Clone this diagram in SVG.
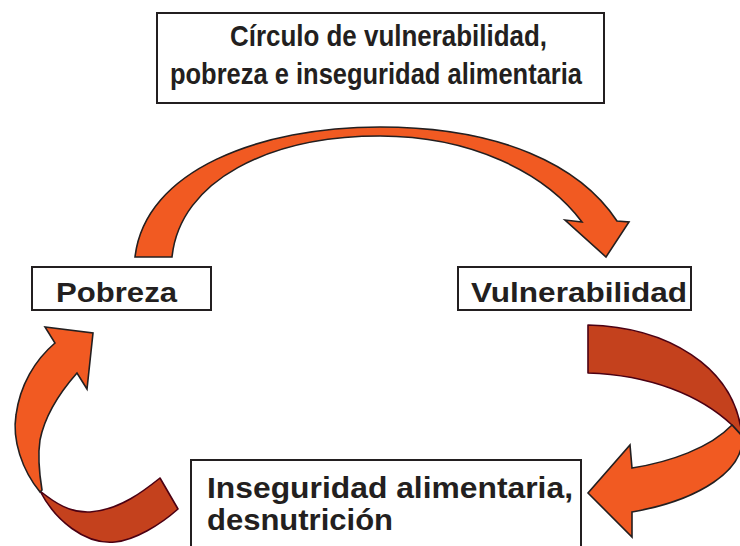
<svg xmlns="http://www.w3.org/2000/svg" width="740" height="546" viewBox="0 0 740 546">
<style>
.box{fill:#fff;stroke:#231f20;stroke-width:2}
.t{font-family:"Liberation Sans",Arial,sans-serif;font-weight:bold;fill:#231f20}
.or{fill:#f15a22;stroke:#231f20;stroke-width:1.6;stroke-linejoin:miter}
.dk{fill:#c4411d;stroke:#4b0013;stroke-width:1.6;stroke-linejoin:round}
</style>
<rect width="740" height="546" fill="#fff"/>
<g id="connectors">
<path id="arrow-top" class="or" d="M135,257 C145,170 260,127 380,127 C500,127 580,165 617,221 L629,222 L606,257 L565,220 L582,222 C545,172 470,136 380,136 C270,136 180,180 172,257 Z"/>
<g id="arrow-right">
<path class="dk" d="M588,325 C665,327 735,365 742,436 L732,425 C700,395 650,375 588,373 Z"/>
<path class="or" d="M732,425 L742,436 C745,470 700,500 632,512 L632,537 L588,493 L630,445 L632,468 C670,462 710,448 732,425 Z"/>
</g>
<g id="arrow-left">
<path class="dk" d="M40,491 C55,520 85,545 115,542 C135,540 160,525 178,509 L160,478 C145,490 120,510 90,512 C70,513 55,503 40,491 Z"/>
<path class="or" d="M40,492 C22,470 12,440 16,415 C20,385 35,360 55,343 L45,327 L93,333 L87,389 L77,373 C62,390 45,415 40,440 C37,460 40,478 42,490 Z"/>
</g>
</g>
<g id="title">
<rect class="box" x="157" y="13" width="447" height="90"/>
<text class="t" x="230" y="46" font-size="30" textLength="317" lengthAdjust="spacingAndGlyphs">Círculo de vulnerabilidad,</text>
<text class="t" x="170" y="84" font-size="30" textLength="412" lengthAdjust="spacingAndGlyphs">pobreza e inseguridad alimentaria</text>
</g>
<g id="pobreza">
<rect class="box" x="32" y="267" width="179" height="43"/>
<text class="t" x="56" y="302" font-size="28" textLength="121" lengthAdjust="spacingAndGlyphs">Pobreza</text>
</g>
<g id="vulnerabilidad">
<rect class="box" x="458" y="267" width="233" height="43"/>
<text class="t" x="471" y="302" font-size="28" textLength="216" lengthAdjust="spacingAndGlyphs">Vulnerabilidad</text>
</g>
<g id="inseguridad">
<rect class="box" x="191" y="460" width="390" height="100"/>
<text class="t" x="207" y="498" font-size="29" textLength="366" lengthAdjust="spacingAndGlyphs">Inseguridad alimentaria,</text>
<text class="t" x="207" y="530" font-size="29" textLength="186" lengthAdjust="spacingAndGlyphs">desnutrición</text>
</g>
</svg>
